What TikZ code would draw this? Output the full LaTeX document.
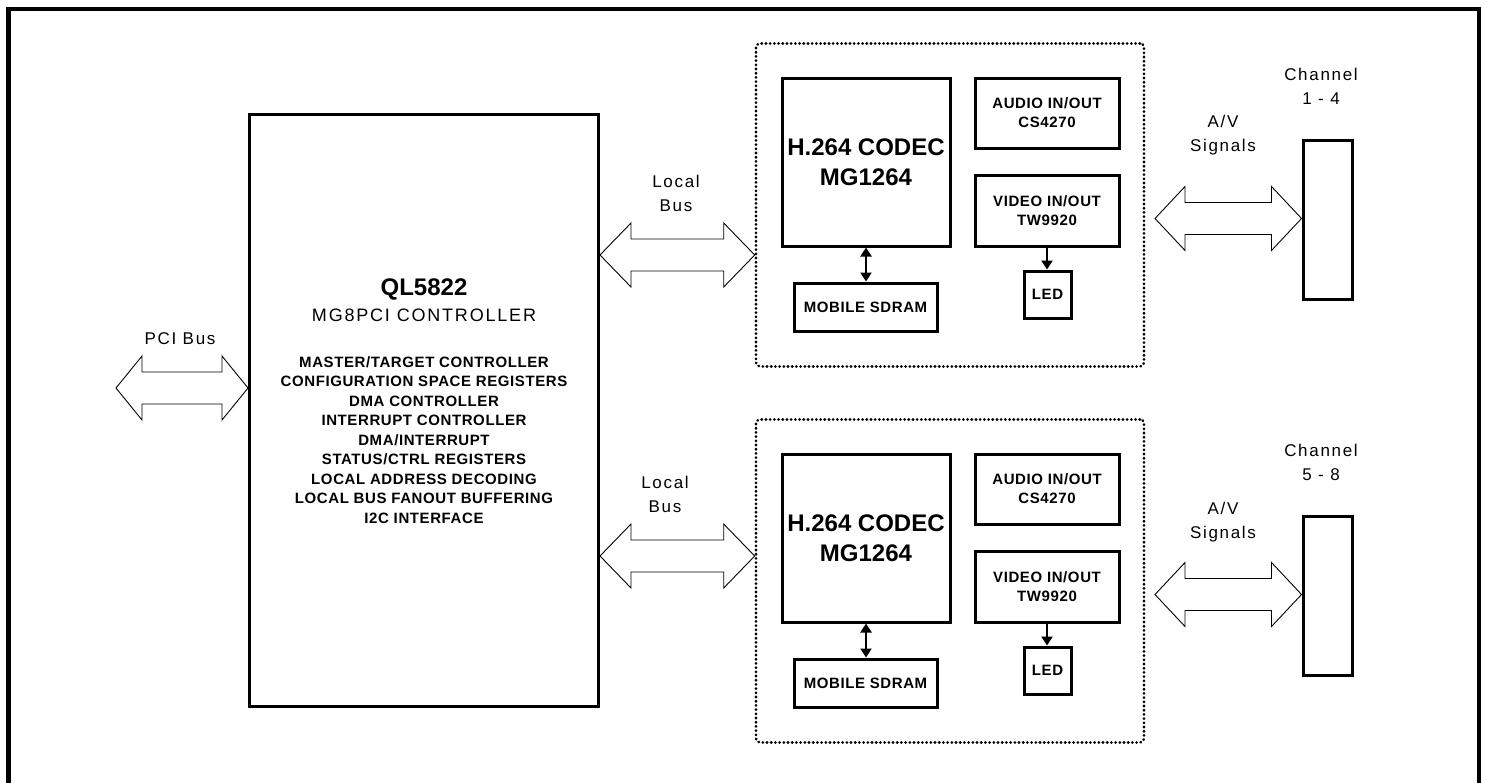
\documentclass[tikz,border=0pt]{standalone}
\usepackage{fontspec}
\setmainfont{Liberation Sans}
\newfontfamily\lblfont{Liberation Sans}[LetterSpace=10]
\newfontfamily\boxfont{Liberation Sans}[LetterSpace=4]
\usetikzlibrary{arrows.meta,calc}

\tikzset{
  box/.style={draw, line width=3pt, inner sep=0pt, align=center, fill=white},
  dotbox/.style={draw, line width=2.6pt, line cap=round, dash pattern=on 0.5pt off 3.7pt, rounded corners=4pt, inner sep=0pt},
  lbl/.style={align=center, inner sep=0pt, font=\lblfont\fontsize{17}{24}\selectfont},
  smalltxt/.style={font=\boxfont\bfseries\fontsize{15}{19}\selectfont},
  bigtxt/.style={font=\bfseries\fontsize{24}{30}\selectfont},
  barrow/.style={draw, line width=0.9pt, fill=white, line join=miter},
  link/.style={line width=2.8pt, >={Triangle[width=11pt,length=9pt]}},
}

\newcommand\busarrow[3]{%
  \path[barrow] let \p1=#1, \p2=#2 in
    (\x1,\y1) -- (\x1+#3,\y1+32pt) -- (\x1+#3,\y1+16pt) -- (\x2-#3,\y1+16pt)
    -- (\x2-#3,\y1+32pt) -- (\x2,\y1) -- (\x2-#3,\y1-32pt) -- (\x2-#3,\y1-16pt)
    -- (\x1+#3,\y1-16pt) -- (\x1+#3,\y1-32pt) -- cycle;}

\begin{document}
\begin{tikzpicture}[x=1pt,y=-1pt]
\useasboundingbox[fill=white] (0,0) rectangle (1485,782);
\clip (0,0) rectangle (1485,782);

% outer frame (open at the bottom)
\draw[line width=4.5pt] (8.5,790) -- (8.5,9) -- (1479,9) -- (1479,790);

% controller
\node[box, minimum width=349pt, minimum height=592pt] (ql) at (424,410.5) {};
\node[inner sep=0pt, font=\bfseries\fontsize{24}{28}\selectfont] (qlt1) at (424,289) {QL5822};
\node[inner sep=0pt, font=\lblfont\fontsize{18}{22}\selectfont] (qlt2) at (424,315) {MG8PCI CONTROLLER};
\node[inner sep=0pt, align=center, font=\boxfont\bfseries\fontsize{15}{19.5}\selectfont] (qllist) at (424,440) {%
MASTER/TARGET CONTROLLER\\
CONFIGURATION SPACE REGISTERS\\
DMA CONTROLLER\\
INTERRUPT CONTROLLER\\
DMA/INTERRUPT\\
STATUS/CTRL REGISTERS\\
LOCAL ADDRESS DECODING\\
LOCAL BUS FANOUT BUFFERING\\
I2C INTERFACE};

% PCI bus
\coordinate (pcitip) at (116,388);
\busarrow{(pcitip)}{(pcitip -| ql.west)}{26pt}
\node[lbl] (pcilbl) at (180,339) {PCI Bus};

\foreach \i/\off/\lby/\lbx/\avy/\chan in {1/0/255/676/135.5/{1 - 4}, 2/376/556/665/522/{5 - 8}}{
  \node[dotbox, minimum width=388pt, minimum height=323pt] (dot\i) at (950,206.5+\off-1.5) {};
  \node[box, bigtxt, minimum width=168pt, minimum height=168pt] (h\i) at (866,162+\off) {H.264 CODEC\\MG1264};
  \node[box, smalltxt, minimum width=144pt, minimum height=70pt] (au\i) at (1047,113+\off) {AUDIO IN/OUT\\CS4270};
  \node[box, smalltxt, minimum width=144pt, minimum height=71pt] (vi\i) at (1047,210.5+\off) {VIDEO IN/OUT\\TW9920};
  \node[box, smalltxt, minimum width=47pt, minimum height=47pt] (led\i) at (1047.5,294.5+\off) {LED};
  \node[box, smalltxt, minimum width=143pt, minimum height=48pt] (sd\i) at (865.5,307+\off) {MOBILE SDRAM};
  \node[box, minimum width=49pt, minimum height=159pt] (ch\i) at (1327.5,219.5+\off) {};

  \draw[link, <->] (h\i.south) -- (h\i.south |- sd\i.north);
  \draw[link, ->] (vi\i.south) -- (vi\i.south |- led\i.north);

  % local bus
  \coordinate (lb\i) at (600,\lby);
  \busarrow{(ql.east |- lb\i)}{(dot\i.west |- lb\i)}{31pt}
  \node[lbl] (lbl\i) at (\lbx,\lby-62) {Local\\Bus};

  % A/V signals
  \coordinate (av\i) at (1155,218.5+\off);
  \busarrow{(av\i)}{(av\i -| ch\i.west)}{30pt}
  \node[lbl] (avl\i) at (1223,\avy) {A/V\\Signals};
  \node[lbl] (chl\i) at (1321,86+\off) {Channel\\\chan};
}
\end{tikzpicture}
\end{document}
